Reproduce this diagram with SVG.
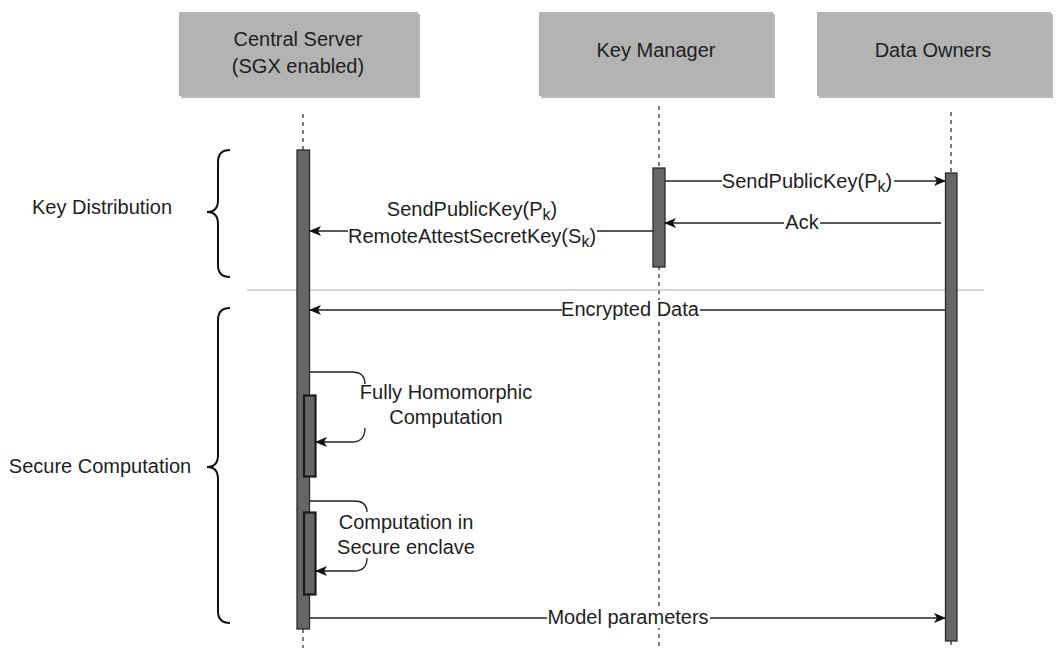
<svg xmlns="http://www.w3.org/2000/svg" width="1059" height="648" viewBox="0 0 1059 648">
<style>
.t{font-family:"Liberation Sans",Arial,sans-serif;font-size:20px;fill:#1e1e1e}
.m{text-anchor:middle}
.box{fill:#b3b3b3}
.sh{fill:#8c8c8c;opacity:0.6}
.life{stroke:#333;stroke-width:1.3;stroke-dasharray:4 4;fill:none}
.bar{fill:#666;stroke:#2b2b2b;stroke-width:1.3}
.ibar{fill:#666;stroke:#1a1a1a;stroke-width:2.2}
.ln{stroke:#222;stroke-width:1.3;fill:none}
.bg{fill:#fff}
.br{stroke:#111;stroke-width:2;fill:none}
.sub{font-size:16px}
</style>
<defs>
<marker id="ah" viewBox="0 0 12 10" refX="11" refY="5" markerWidth="12" markerHeight="10" markerUnits="userSpaceOnUse" orient="auto">
<path d="M0,0 L12,5 L0,10 L3,5 Z" fill="#111"/>
</marker>
</defs>

<g id="lifelines">
<line class="life" x1="303" y1="114" x2="303" y2="150"/>
<line class="life" x1="303" y1="629" x2="303" y2="648"/>
<line class="life" x1="659" y1="106" x2="659" y2="648"/>
<line class="life" x1="951" y1="112" x2="951" y2="173"/>
<line class="life" x1="951" y1="641" x2="951" y2="648"/>
</g>

<g id="central-server">
<rect class="sh" x="181" y="14" width="239" height="84"/>
<rect class="box" x="179" y="12" width="239" height="84"/>
<text class="t m" x="298" y="46">Central Server</text>
<text class="t m" x="298" y="73">(SGX enabled)</text>
</g>
<g id="key-manager">
<rect class="sh" x="541" y="14" width="234" height="84"/>
<rect class="box" x="539" y="12" width="234" height="84"/>
<text class="t m" x="656" y="57">Key Manager</text>
</g>
<g id="data-owners">
<rect class="sh" x="819" y="14" width="234" height="84"/>
<rect class="box" x="817" y="12" width="234" height="84"/>
<text class="t m" x="933" y="57">Data Owners</text>
</g>

<g id="separator">
<line x1="247" y1="290" x2="984" y2="290" stroke="#b0b0b0" stroke-width="1.2"/>
</g>

<g id="bars">
<rect class="bar" x="297" y="150" width="12.5" height="479"/>
<rect class="bar" x="653" y="168" width="12" height="99"/>
<rect class="bar" x="945.5" y="173" width="11.5" height="468"/>
<rect class="ibar" x="304" y="395.5" width="11.5" height="81"/>
<rect class="ibar" x="304" y="512.5" width="11.5" height="82"/>
</g>

<g id="connectors">
<line class="ln" x1="665" y1="181" x2="945" y2="181" marker-end="url(#ah)"/>
<rect class="bg" x="722" y="170" width="172" height="22"/>
<text class="t m" x="807" y="188">SendPublicKey(P<tspan class="sub" dy="4">k</tspan><tspan dy="-4">)</tspan></text>

<line class="ln" x1="941" y1="223" x2="665" y2="223" marker-end="url(#ah)"/>
<rect class="bg" x="784" y="212" width="36" height="20"/>
<text class="t m" x="802" y="229">Ack</text>

<line class="ln" x1="653" y1="231" x2="310" y2="231" marker-end="url(#ah)"/>
<rect class="bg" x="348" y="197" width="249" height="50"/>
<text class="t m" x="472" y="216">SendPublicKey(P<tspan class="sub" dy="4">k</tspan><tspan dy="-4">)</tspan></text>
<text class="t m" x="472" y="243">RemoteAttestSecretKey(S<tspan class="sub" dy="4">k</tspan><tspan dy="-4">)</tspan></text>

<line class="ln" x1="945" y1="310" x2="310" y2="310" marker-end="url(#ah)"/>
<rect class="bg" x="562" y="300" width="138" height="20"/>
<text class="t m" x="630" y="316">Encrypted Data</text>

<path class="ln" d="M310,372 L352,372 Q365,372 365,384"/>
<path class="ln" d="M365,428 Q365,442 352,442 L316,442" marker-end="url(#ah)"/>
<text class="t m" x="446" y="399">Fully Homomorphic</text>
<text class="t m" x="446" y="424">Computation</text>

<path class="ln" d="M310,501 L354,501 Q367,501 367,512"/>
<path class="ln" d="M367,558 Q367,571 354,571 L316,571" marker-end="url(#ah)"/>
<text class="t m" x="406" y="529">Computation in</text>
<text class="t m" x="406" y="554">Secure enclave</text>

<line class="ln" x1="310" y1="618" x2="945" y2="618" marker-end="url(#ah)"/>
<rect class="bg" x="547" y="608" width="163" height="20"/>
<text class="t m" x="628" y="624">Model parameters</text>
</g>

<g id="key-distribution">
<path class="br" d="M230,150 Q218,150 218,162 L218,200 Q218,212 207,212 Q218,212 218,224 L218,265 Q218,277 230,277"/>
<text class="t m" x="102" y="214">Key Distribution</text>
</g>
<g id="secure-computation">
<path class="br" d="M230,308 Q218,308 218,320 L218,455 Q218,467 207,467 Q218,467 218,479 L218,611 Q218,623 230,623"/>
<text class="t m" x="100" y="473">Secure Computation</text>
</g>
</svg>
